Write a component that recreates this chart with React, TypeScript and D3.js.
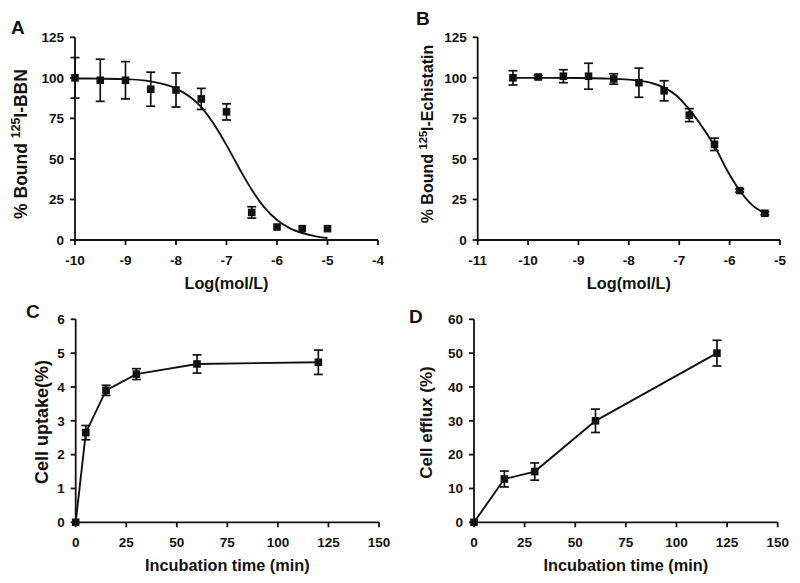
import React from 'react';
import * as d3 from 'd3';

// ---- Panel A: competitive binding, 125I-BBN ----
const A_X = [-10, -9.5, -9, -8.5, -8, -7.5, -7, -6.5, -6, -5.5, -5];
const A_Y = [100, 98.5, 98.5, 93, 92.5, 87, 79, 17, 8, 7, 7];
const A_ERR = [12.5, 13, 11.5, 10.5, 10.5, 6.5, 5, 3.5, 0, 0, 0];
const A_FIT_X = [-10, -9.5, -9, -8.5, -8, -7.5, -7.25, -7, -6.75, -6.5, -6.25, -6, -5.75, -5.5, -5.25, -5];
const A_FIT_Y = [99.6, 99.5, 99.2, 97.8, 93.5, 82, 71.5, 58.5, 44.3, 31, 20.1, 12.3, 7.3, 4.3, 2.4, 1.2];
const A_XTICKS = [-10, -9, -8, -7, -6, -5, -4];
const A_YTICKS = [0, 25, 50, 75, 100, 125];

// ---- Panel B: competitive binding, 125I-Echistatin ----
const B_X = [-10.3, -9.8, -9.3, -8.8, -8.3, -7.8, -7.3, -6.8, -6.3, -5.8, -5.3];
const B_Y = [100, 100.5, 101, 101, 99.3, 97, 92, 77, 59, 30.5, 16.5];
const B_ERR = [4.4, 1, 4, 8, 3.2, 9, 6.2, 4, 3.8, 1, 1];
const B_FIT_X = [-10.3, -9.5, -9, -8.5, -8, -7.8, -7.55, -7.3, -7.05, -6.8, -6.55, -6.3, -6.05, -5.8, -5.55, -5.3];
const B_FIT_Y = [100, 100, 99.9, 99.6, 98.9, 98.2, 96.8, 94, 89, 80.5, 70, 58, 43, 30.5, 21.5, 16.5];
const B_XTICKS = [-11, -10, -9, -8, -7, -6, -5];
const B_YTICKS = [0, 25, 50, 75, 100, 125];

// ---- Panel C: cell uptake ----
const C_X = [0, 5, 15, 30, 60, 120];
const C_Y = [0, 2.65, 3.9, 4.38, 4.68, 4.73];
const C_ERR = [0, 0.21, 0.15, 0.16, 0.27, 0.36];
const C_XTICKS = [0, 25, 50, 75, 100, 125, 150];
const C_YTICKS = [0, 1, 2, 3, 4, 5, 6];

// ---- Panel D: cell efflux ----
const D_X = [0, 15, 30, 60, 120];
const D_Y = [0, 12.8, 15, 30, 50];
const D_ERR = [0, 2.35, 2.55, 3.45, 3.8];
const D_XTICKS = [0, 25, 50, 75, 100, 125, 150];
const D_YTICKS = [0, 10, 20, 30, 40, 50, 60];

const FONT = '"Liberation Sans", Arial, Helvetica, sans-serif';

type PanelProps = {
  letter: string;
  letterPos: [number, number];
  px: [number, number];
  py: [number, number];
  xDomain: [number, number];
  yDomain: [number, number];
  xTicks: number[];
  yTicks: number[];
  xs: number[];
  ys: number[];
  errs: number[];
  lineX: number[];
  lineY: number[];
  smooth: boolean;
  xTitle: string;
  yTitle: React.ReactNode;
  yTitlePos: [number, number];
  yTitleSize: number;
};

function Panel(p: PanelProps) {
  const x = d3.scaleLinear().domain(p.xDomain).range(p.px);
  const y = d3.scaleLinear().domain(p.yDomain).range(p.py);
  const line = d3
    .line<number>()
    .x((_, i) => x(p.lineX[i]))
    .y((d) => y(d))
    .curve(p.smooth ? d3.curveMonotoneX : d3.curveLinear);
  const sw = 1.8;
  const cap = 4.5;
  const m = 3.8;
  const x0 = p.px[0];
  const y0 = p.py[0];
  return (
    <g fontFamily={FONT} fontWeight="bold" fill="#111">
      <text x={p.letterPos[0]} y={p.letterPos[1]} fontSize={19}>{p.letter}</text>
      {/* axes */}
      <line x1={x0} x2={x0} y1={y0 + 0.9} y2={p.py[1]} stroke="#111" strokeWidth={sw} />
      <line x1={x0 - 0.9} x2={p.px[1]} y1={y0} y2={y0} stroke="#111" strokeWidth={sw} />
      {p.yTicks.map((t) => (
        <g key={'y' + t}>
          <line x1={x0 - 5} x2={x0} y1={y(t)} y2={y(t)} stroke="#111" strokeWidth={sw} />
          <text x={x0 - 11} y={y(t)} dy="0.36em" textAnchor="end" fontSize={13.5}>{t}</text>
        </g>
      ))}
      {p.xTicks.map((t) => (
        <g key={'x' + t}>
          <line x1={x(t)} x2={x(t)} y1={y0} y2={y0 + 5} stroke="#111" strokeWidth={sw} />
          <text x={x(t)} y={y0 + 24.5} textAnchor="middle" fontSize={13.5}>{t}</text>
        </g>
      ))}
      <text x={(p.px[0] + p.px[1]) / 2} y={y0 + 48.5} textAnchor="middle" fontSize={16.3}>{p.xTitle}</text>
      <text
        transform={`translate(${p.yTitlePos[0]},${p.yTitlePos[1]}) rotate(-90)`}
        textAnchor="middle"
        fontSize={p.yTitleSize}
      >
        {p.yTitle}
      </text>
      {/* line */}
      <path d={line(p.lineY) || ''} fill="none" stroke="#111" strokeWidth={1.9} />
      {/* error bars */}
      {p.xs.map((v, i) =>
        p.errs[i] > 0 ? (
          <g key={'e' + i} stroke="#111" strokeWidth={1.7}>
            <line x1={x(v)} x2={x(v)} y1={y(p.ys[i] - p.errs[i])} y2={y(p.ys[i] + p.errs[i])} />
            <line x1={x(v) - cap} x2={x(v) + cap} y1={y(p.ys[i] + p.errs[i])} y2={y(p.ys[i] + p.errs[i])} />
            <line x1={x(v) - cap} x2={x(v) + cap} y1={y(p.ys[i] - p.errs[i])} y2={y(p.ys[i] - p.errs[i])} />
          </g>
        ) : null
      )}
      {/* markers */}
      {p.xs.map((v, i) => (
        <rect key={'m' + i} x={x(v) - m} y={y(p.ys[i]) - m} width={2 * m} height={2 * m} fill="#111" />
      ))}
    </g>
  );
}

export default function App() {
  const sup = (base: string, rest: string, fs: number) => (
    <>
      <tspan>{base}</tspan>
      <tspan dy={-fs * 0.38} fontSize={fs * 0.7}>125</tspan>
      <tspan dy={fs * 0.38}>{rest}</tspan>
    </>
  );
  return (
    <svg
      width={800}
      height={583}
      style={{ position: 'absolute', left: 0, top: 0, background: '#fff' }}
    >
      <rect width={800} height={583} fill="#fff" />
      <Panel
        letter="A"
        letterPos={[11, 34]}
        px={[75, 378]}
        py={[240, 37.3]}
        xDomain={[-10, -4]}
        yDomain={[0, 125]}
        xTicks={A_XTICKS}
        yTicks={A_YTICKS}
        xs={A_X}
        ys={A_Y}
        errs={A_ERR}
        lineX={A_FIT_X}
        lineY={A_FIT_Y}
        smooth={true}
        xTitle="Log(mol/L)"
        yTitle={sup('% Bound ', 'I-BBN', 17.5)}
        yTitlePos={[27, 144]}
        yTitleSize={17.5}
      />
      <Panel
        letter="B"
        letterPos={[416, 25]}
        px={[477.7, 780]}
        py={[240, 37.3]}
        xDomain={[-11, -5]}
        yDomain={[0, 125]}
        xTicks={B_XTICKS}
        yTicks={B_YTICKS}
        xs={B_X}
        ys={B_Y}
        errs={B_ERR}
        lineX={B_FIT_X}
        lineY={B_FIT_Y}
        smooth={true}
        xTitle="Log(mol/L)"
        yTitle={sup('% Bound ', 'I-Echistatin', 16)}
        yTitlePos={[433, 134]}
        yTitleSize={16}
      />
      <Panel
        letter="C"
        letterPos={[26, 318]}
        px={[75.7, 379]}
        py={[522.3, 319.3]}
        xDomain={[0, 150]}
        yDomain={[0, 6]}
        xTicks={C_XTICKS}
        yTicks={C_YTICKS}
        xs={C_X}
        ys={C_Y}
        errs={C_ERR}
        lineX={C_X}
        lineY={C_Y}
        smooth={false}
        xTitle="Incubation time (min)"
        yTitle="Cell uptake(%)"
        yTitlePos={[48, 422]}
        yTitleSize={18}
      />
      <Panel
        letter="D"
        letterPos={[409, 323]}
        px={[474, 777.7]}
        py={[522.3, 319.3]}
        xDomain={[0, 150]}
        yDomain={[0, 60]}
        xTicks={D_XTICKS}
        yTicks={D_YTICKS}
        xs={D_X}
        ys={D_Y}
        errs={D_ERR}
        lineX={D_X}
        lineY={D_Y}
        smooth={false}
        xTitle="Incubation time (min)"
        yTitle="Cell efflux (%)"
        yTitlePos={[432, 422.5]}
        yTitleSize={17}
      />
    </svg>
  );
}
